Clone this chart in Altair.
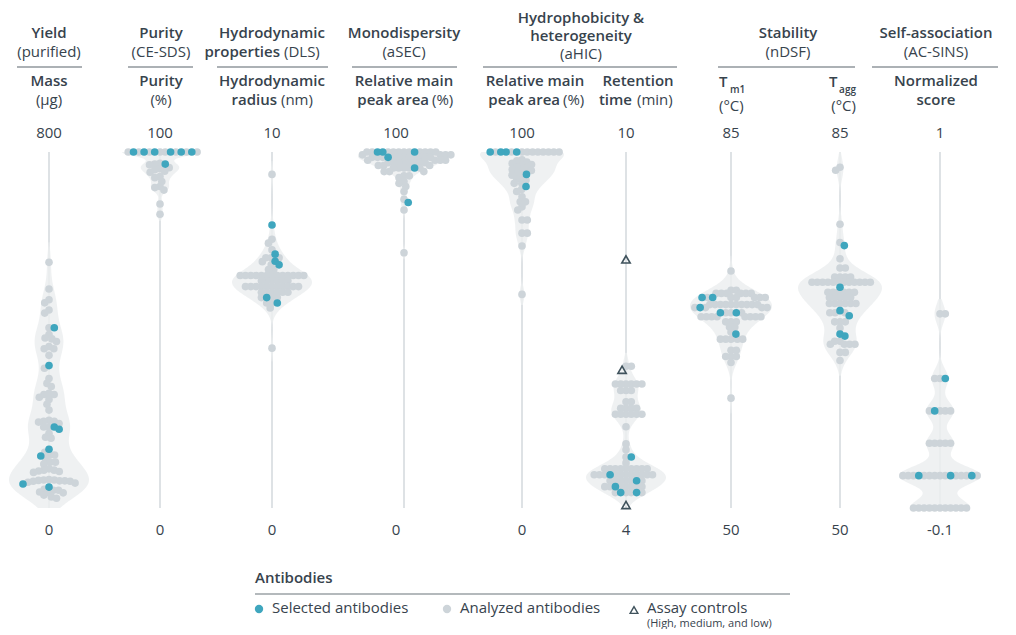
import math
import altair as alt
import pandas as pd

# ---------------- data ----------------
axis_min = [0, 0, 0, 0, 0, 4, 50, 50, -0.1]
axis_max = [800, 100, 10, 100, 100, 10, 85, 85, 1]
tick_min_labels = ["0", "0", "0", "0", "0", "4", "50", "50", "-0.1"]
tick_max_labels = ["800", "100", "10", "100", "100", "10", "85", "85", "1"]

yield_selected = [405, 320, 182, 177, 132, 117, 54, 47]
yield_analyzed = [552, 492, 468, 461, 445, 438, 405, 390, 382, 380, 374, 363, 358, 358,
                  343, 314, 291, 280, 273, 258, 255, 255, 249, 244, 233, 220, 197, 195,
                  195, 193, 190, 182, 182, 168, 159, 157, 125, 119, 119, 110, 103, 103,
                  99, 88, 85, 85, 83, 82, 80, 64, 63, 63, 62, 61, 61, 60, 60, 58, 56,
                  42, 40, 40, 36, 35, 34, 29, 25, 22]

purity_selected = [100, 100, 100, 100, 100, 100, 96.6]
purity_analyzed = [100, 100, 100, 100, 100, 100, 100, 100, 96.8, 96.6, 96.4, 95.6, 95.3,
                   95.0, 94.6, 94.3, 93.1, 92.8, 91.7, 90.3, 90.0, 89.3, 85.4, 82.5]

dls_selected = [7.95, 7.13, 6.93, 6.83, 5.91, 5.76]
dls_analyzed = [9.37, 7.55, 7.44, 7.25, 7.03, 7.03, 7.03, 6.92, 6.83, 6.7, 6.7,
                6.53, 6.53, 6.53, 6.53, 6.53, 6.53, 6.53, 6.53, 6.53, 6.53, 6.53, 6.53, 6.53,
                6.38, 6.38, 6.38, 6.38, 6.38, 6.38,
                6.22, 6.22, 6.22, 6.22, 6.22, 6.22, 6.22, 6.22, 6.22, 6.22, 6.22,
                6.06, 6.06, 6.06, 6.06, 6.06, 6.06, 5.91, 5.91, 5.91, 5.76, 5.76, 5.62, 4.49]

asec_selected = [100, 100, 100, 98.5, 95.5, 85.8]
asec_analyzed = [100, 100, 100, 100, 100, 100, 100, 100, 100, 100, 100,
                 99.2, 99.2, 99.2, 99.2,
                 98.5, 98.5, 98.5, 98.5, 98.5, 98.5, 98.5, 98.5, 98.5, 98.5, 98.5,
                 97.7, 97.7, 97.7, 97.7,
                 97.0, 97.0, 97.0, 97.0, 97.0, 97.0, 97.0, 97.0,
                 96.2, 96.2, 96.2,
                 95.5, 95.5, 95.5, 95.5, 95.5, 94.5, 94.5, 94.5, 93.3, 93.3, 92.8,
                 91.7, 91.2, 90.3, 88.9, 86.7, 83.7, 71.7]

ahic_area_selected = [100, 100, 100, 100, 93.7, 90.3]
ahic_area_analyzed = [100, 100, 100, 100, 100, 100, 100, 100, 100, 100,
                      97.8, 97.5, 97.2, 96.8, 96.5, 96.2, 95.8, 95.5, 95.1, 94.8, 94.5,
                      94.0, 93.5, 93.0, 92.5, 92.1, 91.2, 91.2, 89.5, 88.9, 87.4, 86.0,
                      86.0, 84.6, 83.7, 80.9, 80.9, 77.2, 77.2, 73.6, 60.0]

retention_selected = [4.86, 4.56, 4.46, 4.36, 4.26, 4.26]
retention_analyzed = [6.39, 6.39, 6.09, 6.09, 6.09, 6.09, 6.09, 6.09, 5.98, 5.98, 5.98,
                      5.79, 5.79, 5.68, 5.68, 5.68, 5.68, 5.58, 5.58, 5.58, 5.58, 5.58, 5.58,
                      5.37, 5.08, 4.98, 4.86, 4.76,
                      4.66, 4.66, 4.66, 4.66, 4.66, 4.66, 4.66, 4.66, 4.66,
                      4.56, 4.56, 4.56, 4.56, 4.56, 4.56, 4.56, 4.56, 4.56, 4.56, 4.56,
                      4.46, 4.46, 4.46, 4.46, 4.46, 4.46,
                      4.36, 4.36, 4.36, 4.36, 4.36, 4.36, 4.36,
                      4.26, 4.26, 4.26, 4.26]
retention_controls = [8.19, 6.33, 4.05]

tm1_selected = [70.7, 70.7, 69.7, 69.2, 69.2, 67.1]
tm1_analyzed = [73.3, 71.4, 71.4, 71.1, 71.1, 71.1, 71.1, 71.1, 71.1,
                70.7, 70.7, 70.7, 70.7, 70.7, 70.7,
                70.0, 70.0, 70.0, 70.0, 70.0, 70.0, 70.0, 70.0, 70.0, 70.0,
                69.7, 69.7, 69.7, 69.7, 69.2, 69.2, 69.2,
                68.8, 68.8, 68.8, 68.8, 68.8, 68.8, 68.8, 68.8, 68.3, 68.3, 68.3,
                67.8, 67.8, 67.3, 66.6, 66.6, 66.6, 66.6, 66.6, 65.5, 65.5,
                64.9, 64.9, 64.9, 64.3, 60.8]

tagg_selected = [75.8, 71.7, 69.4, 68.9, 67.1, 66.9]
tagg_analyzed = [83.5, 83.2, 77.9, 76.1, 74.5, 73.6, 73.6, 72.7, 72.7, 72.7, 72.7,
                 72.2, 72.2, 72.2, 72.2, 72.2, 72.2, 72.2, 72.2, 72.2, 72.2, 72.2, 72.2,
                 71.2, 71.2, 71.2, 71.2, 71.2, 71.2, 70.7, 70.7, 70.7, 70.7, 70.7,
                 70.1, 70.1, 70.1, 70.1, 70.1, 70.1, 69.2, 69.2, 69.2, 68.3, 68.3, 68.3,
                 67.7, 66.4, 66.4, 66.1, 66.1, 66.1, 66.1, 65.3, 65.3, 64.5]

acsins_selected = [0.3, 0.2, 0.0, 0.0, 0.0]
acsins_analyzed = [0.5, 0.5, 0.3, 0.3, 0.2, 0.2, 0.2, 0.2, 0.1, 0.1, 0.1, 0.1, 0.1,
                   0.0, 0.0, 0.0, 0.0, 0.0, 0.0, 0.0, 0.0, 0.0, 0.0, 0.0, 0.0,
                   -0.1, -0.1, -0.1, -0.1, -0.1, -0.1, -0.1, -0.1, -0.1, -0.1, -0.1]

selected = [yield_selected, purity_selected, dls_selected, asec_selected, ahic_area_selected,
            retention_selected, tm1_selected, tagg_selected, acsins_selected]
analyzed = [yield_analyzed, purity_analyzed, dls_analyzed, asec_analyzed, ahic_area_analyzed,
            retention_analyzed, tm1_analyzed, tagg_analyzed, acsins_analyzed]
controls = [[], [], [], [], [], retention_controls, [], [], []]

# ---------------- style / layout ----------------
FONT = "Open Sans"
BOLD = 600
TEXT = "#37434d"
TEAL = "#3fa6be"
GRAY = "#cdd4d9"
VIOLIN = "#eceef0"
RULE = "#d3d8dc"
HEADLINE = "#5b656d"

PANEL_L = [8, 104, 216, 336, 461, 574, 678, 785, 890]
PANEL_W = [96, 112, 120, 125, 113, 104, 107, 105, 118]
CENTER = [49, 160, 272, 404, 522, 626, 731, 840, 940]
LABEL_DX = [0, 0, 0, -8, 0, 0, 0, 0, 0]
BANDWIDTH = [30, 1.2, 0.25, 1.2, 2.0, 0.15, 1.0, 1.0, 0.03]
HALF_W = [40, 38, 40, 46, 42, 40, 41, 42, 41]
PANEL_H = 620
Y_TOP = 144      # panel px of axis max
Y_BOT = 500      # panel px of axis min
SPAN = Y_BOT - Y_TOP
DIAM = 5.3       # beeswarm collision distance (px)
PT_SIZE = 58


def swarm(vals, prefs, lo, hi):
    placed = []
    out = []
    for v, pref in zip(vals, prefs):
        y = (v - lo) / (hi - lo) * SPAN
        cands = [0.0]
        for py, px in placed:
            dy = abs(py - y)
            if dy < DIAM:
                dx = math.sqrt(DIAM * DIAM - dy * dy)
                cands += [px - dx, px + dx]
        cands.sort(key=lambda t: (round(abs(t), 4), t * pref))
        chosen = cands[-1]
        for cx in cands:
            if all((cx - px) ** 2 + (y - py) ** 2 >= DIAM * DIAM - 1e-6 for py, px in placed):
                chosen = cx
                break
        placed.append((y, chosen))
        out.append(chosen)
    return out


def build_df(i):
    sel, ana, ctl = selected[i], analyzed[i], controls[i]
    values = sorted(set(sel + ana + ctl), reverse=True)
    items, prefs = [], []
    for v in values:
        a = sum(1 for t in ana if t == v)
        s = sum(1 for t in sel if t == v)
        c = sum(1 for t in ctl if t == v)
        n = a + s
        kinds = ["ana"] * n
        for j in range(s):
            kinds[min(n - 1, int((j + 1) * n / (s + 1)))] = "sel"
        while kinds.count("sel") < s:
            kinds[kinds.index("ana")] = "sel"
        kinds += ["ctrl"] * c
        cnt = {"ana": 0, "sel": 0, "ctrl": 0}
        for k in kinds:
            if k == "sel":
                p = -1 if cnt[k] % 2 == 0 else 1
            else:
                p = 1 if cnt[k] % 2 == 0 else -1
            cnt[k] += 1
            items.append((v, k))
            prefs.append(p)
    xs = swarm([t[0] for t in items], prefs, axis_min[i], axis_max[i])
    return pd.DataFrame({"value": [t[0] for t in items],
                         "kind": [t[1] for t in items],
                         "off": xs})


ONE = pd.DataFrame({"k": [0]})


def label(s, px, py, bold=False, align="center", size=15, color=TEXT):
    return alt.Chart(ONE).mark_text(
        text=s, align=align, baseline="middle", font=FONT, fontSize=size,
        fontWeight=(BOLD if bold else "normal"), color=color
    ).encode(x=alt.value(px - 8), y=alt.value(py - 8))


def hline(x1, x2, py, color=HEADLINE, width=1.2):
    return alt.Chart(ONE).mark_rule(color=color, strokeWidth=width).encode(
        x=alt.value(x1 - 8), x2=alt.value(x2 - 8), y=alt.value(py - 8))


def panel(i):
    lo, hi = axis_min[i], axis_max[i]
    W = PANEL_W[i]
    c = CENTER[i] - PANEL_L[i]
    xs = alt.Scale(domain=[-c, W - c], nice=False, zero=False)
    ys = alt.Scale(domain=[lo, hi], range=[Y_BOT, Y_TOP], nice=False, zero=False)
    df = build_df(i)
    rng = pd.DataFrame({"lo": [lo], "hi": [hi], "z": [0],
                        "top": [tick_max_labels[i]], "bot": [tick_min_labels[i]]})
    base = alt.Chart(df)
    bw = BANDWIDTH[i]
    allv = selected[i] + analyzed[i]
    ext = [max(lo, min(allv) - 1.5 * bw), min(hi, max(allv) + 1.5 * bw)]
    hw = HALF_W[i]

    rule = alt.Chart(rng).mark_rule(color=RULE, strokeWidth=1.5).encode(
        x=alt.X("z:Q", scale=xs, axis=None),
        y=alt.Y("lo:Q", scale=ys, axis=None), y2="hi:Q")
    violin = base.transform_filter("datum.kind != 'ctrl'").transform_density(
        "value", as_=["value", "density"], bandwidth=bw, extent=ext, steps=240
    ).transform_joinaggregate(maxd="max(density)").transform_calculate(
        hw=f"datum.density / datum.maxd * {hw}",
        nhw=f"-datum.density / datum.maxd * {hw}"
    ).mark_area(orient="horizontal", color=VIOLIN, opacity=0.85).encode(
        y=alt.Y("value:Q", scale=ys, axis=None),
        x=alt.X("nhw:Q", scale=xs, axis=None), x2="hw:Q")
    gray = base.transform_filter("datum.kind == 'ana'").mark_circle(
        size=PT_SIZE, color=GRAY, opacity=1).encode(
        x=alt.X("off:Q", scale=xs, axis=None), y=alt.Y("value:Q", scale=ys, axis=None))
    teal = base.transform_filter("datum.kind == 'sel'").mark_circle(
        size=PT_SIZE, color=TEAL, opacity=1).encode(
        x=alt.X("off:Q", scale=xs, axis=None), y=alt.Y("value:Q", scale=ys, axis=None))
    layers = [rule, violin, gray, teal]
    if controls[i]:
        ctrl = base.transform_filter("datum.kind == 'ctrl'").mark_point(
            shape="triangle-up", filled=False, color="#3f525c", strokeWidth=1.6,
            size=70, opacity=1).encode(
            x=alt.X("off:Q", scale=xs, axis=None), y=alt.Y("value:Q", scale=ys, axis=None))
        layers.append(ctrl)
    top = alt.Chart(rng).mark_text(dy=-19, dx=LABEL_DX[i], font=FONT, fontSize=15,
                                   color=TEXT, baseline="middle").encode(
        x=alt.X("z:Q", scale=xs, axis=None), y=alt.Y("hi:Q", scale=ys, axis=None), text="top:N")
    bot = alt.Chart(rng).mark_text(dy=22, dx=LABEL_DX[i], font=FONT, fontSize=15,
                                   color=TEXT, baseline="middle").encode(
        x=alt.X("z:Q", scale=xs, axis=None), y=alt.Y("lo:Q", scale=ys, axis=None), text="bot:N")
    layers += [top, bot]
    return layers


# headers and legend (page coordinates)
header_layers = [
    label("Yield", 49, 33, True), label("(purified)", 49, 52),
    label("Purity", 161, 33, True), label("(CE-SDS)", 161, 52),
    label("Hydrodynamic", 272, 33, True), label("properties", 280, 52, True, "right"),
    label("(DLS)", 284, 52, False, "left"),
    label("Monodispersity", 404, 33, True), label("(aSEC)", 404, 52),
    label("Hydrophobicity &", 581, 18, True), label("heterogeneity", 581, 36, True),
    label("(aHIC)", 581, 54),
    label("Stability", 788, 33, True), label("(nDSF)", 788, 52),
    label("Self-association", 936, 33, True), label("(AC-SINS)", 936, 52),
    hline(17, 82, 67), hline(128, 193, 67), hline(217, 328, 67), hline(352, 457, 67),
    hline(483, 677, 67), hline(718, 855, 67), hline(872, 998, 67),
    label("Mass", 49, 81, True), label("(µg)", 49, 100),
    label("Purity", 161, 81, True), label("(%)", 161, 100),
    label("Hydrodynamic", 272, 81, True), label("radius", 277, 100, True, "right"),
    label("(nm)", 281, 100, False, "left"),
    label("Relative main", 404, 81, True), label("peak area", 429, 100, True, "right"),
    label("(%)", 432, 100, False, "left"),
    label("Relative main", 535, 81, True), label("peak area", 560, 100, True, "right"),
    label("(%)", 563, 100, False, "left"),
    label("Retention", 638, 81, True), label("time", 632, 100, True, "right"),
    label("(min)", 637, 100, False, "left"),
    label("T", 719, 82, True, "left"), label("m1", 730, 90, True, "left", 10),
    label("(°C)", 719, 106, False, "left"),
    label("T", 829, 82, True, "left"), label("agg", 856, 90, True, "right", 10),
    label("(°C)", 856, 106, False, "right"),
    label("Normalized", 936, 81, True), label("score", 936, 100, True),
    # legend
    label("Antibodies", 255, 578, True, "left"),
    hline(255, 790, 594, "#6b747b", 1.2),
    alt.Chart(ONE).mark_circle(size=70, color=TEAL, opacity=1).encode(
        x=alt.value(259 - 8), y=alt.value(609 - 8)),
    label("Selected antibodies", 272, 608, False, "left"),
    alt.Chart(ONE).mark_circle(size=70, color=GRAY, opacity=1).encode(
        x=alt.value(447 - 8), y=alt.value(609 - 8)),
    label("Analyzed antibodies", 460, 608, False, "left"),
    alt.Chart(ONE).mark_point(shape="triangle-up", filled=False, color="#3f525c",
                              strokeWidth=1.4, size=60, opacity=1).encode(
        x=alt.value(634 - 8), y=alt.value(610 - 8)),
    label("Assay controls", 647, 608, False, "left"),
    label("(High, medium, and low)", 647, 624, False, "left", 11),
]

panels = []
for i in range(9):
    layers = panel(i)
    if i == 0:
        layers = layers + header_layers
    panels.append(alt.layer(*layers).properties(width=PANEL_W[i], height=PANEL_H))

chart = alt.hconcat(*panels, spacing=0, bounds="flush").properties(
    padding=0
).configure_view(stroke=None)

chart.save("out.html", embed_options={"renderer": "svg", "actions": False})
